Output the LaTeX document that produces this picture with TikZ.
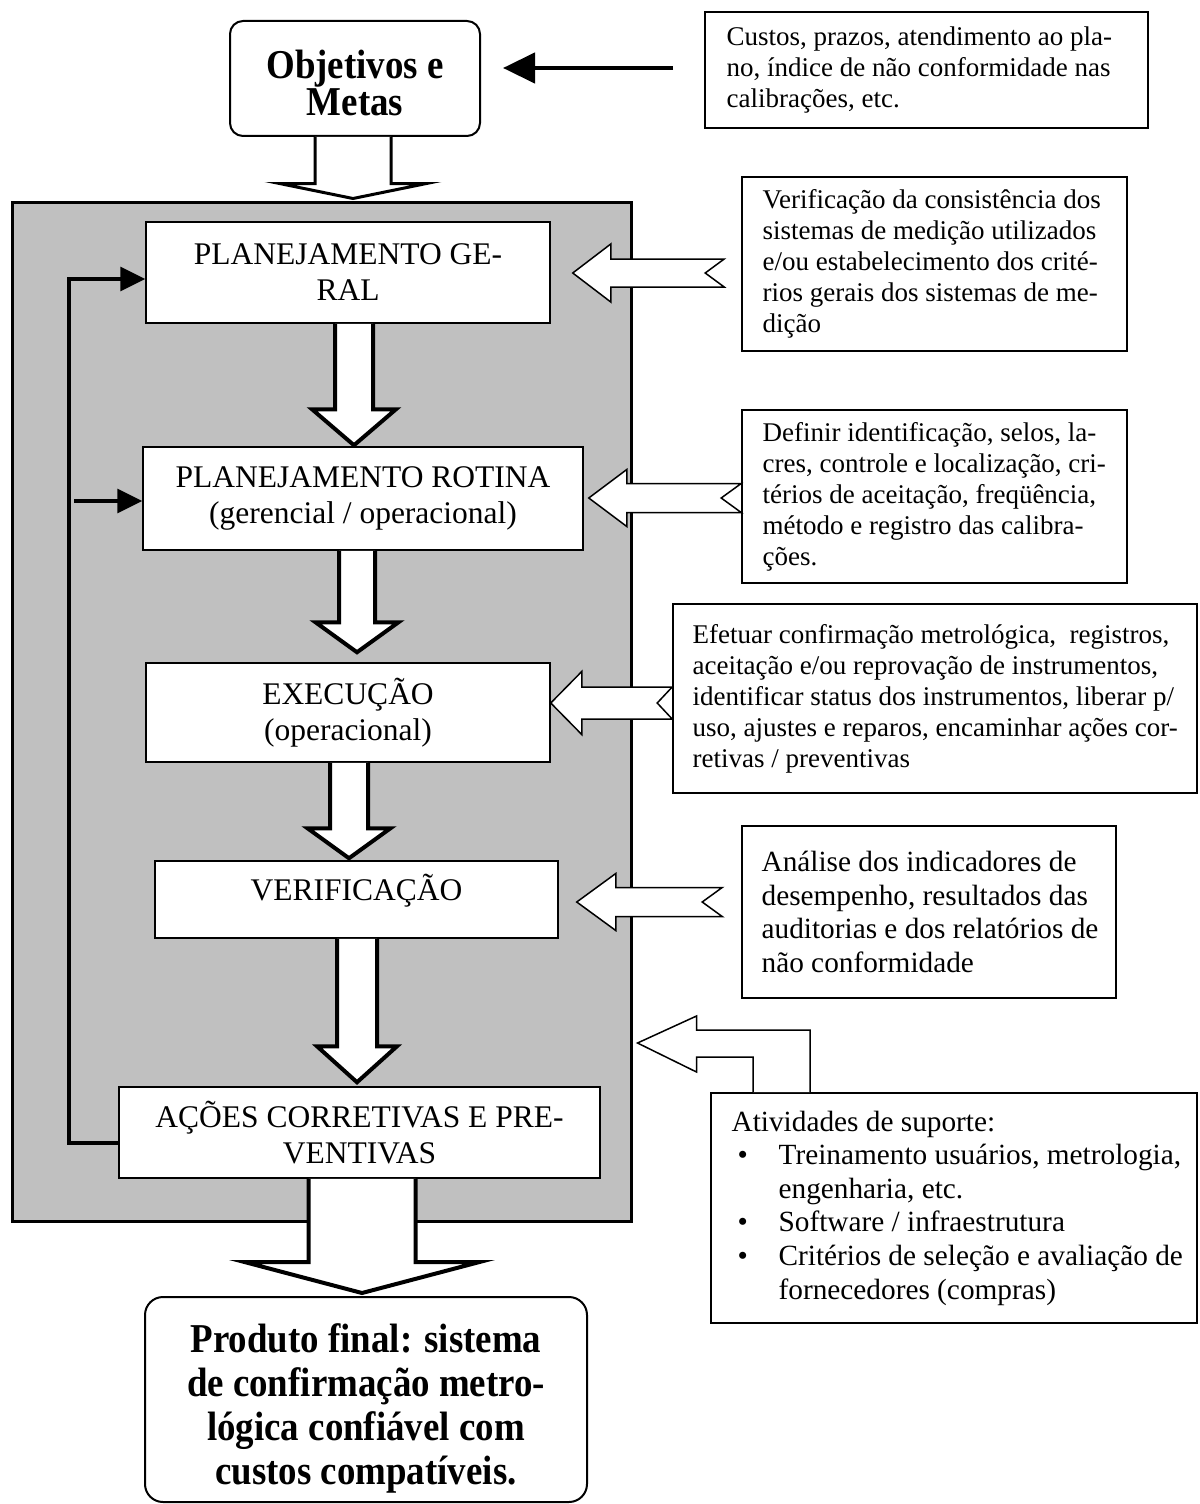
\documentclass[tikz,border=0pt]{standalone}
\usepackage{fontspec}
\setmainfont{Liberation Serif}
\newfontfamily\goalfont{Liberation Serif}[FakeStretch=0.9]
\usetikzlibrary{calc,arrows.meta}
\definecolor{coregray}{RGB}{192,192,192}

\tikzset{
  flowbox/.style={draw, line width=0.75pt, fill=white, align=center, inner sep=0pt,
    font=\fontsize{15.75pt}{18pt}\selectfont},
  flowtext/.style={inner sep=0pt, font=\fontsize{15.75pt}{18pt}\selectfont},
  notebox/.style={draw, line width=0.8pt, fill=white, inner sep=0pt},
  notetext/.style={anchor=west, align=left, inner sep=0pt,
    font=\fontsize{13.5pt}{15.5pt}\selectfont},
  notetextlg/.style={notetext, font=\fontsize{14.65pt}{16.8pt}\selectfont},
  goalbox/.style={draw, line width=1pt, fill=white, inner sep=0pt},
  goaltext/.style={align=center, inner sep=0pt},
  fatarrow/.style={draw, fill=white, line width=2pt, line join=miter},
  thinarrow/.style={draw, fill=white, line width=0.75pt, line join=miter},
  loopline/.style={line width=1.7pt, line join=miter, -{Triangle[length=12.5pt,width=12pt]}},
  leadline/.style={line width=2.25pt, -{Triangle[length=16pt,width=15pt]}},
}

% hollow block arrow pointing down:
% #1 style, #2 source, #3 target, #4 axis coordinate, #5 stem half width,
% #6 head half width, #7 head length, #8 gap before target
\newcommand\fatdown[8]{%
  \draw[#1] ($(#2.south -| #4)+(-#5,0)$)
    -- ($(#3.north -| #4)+(-#5,-#7-#8)$)
    -- ($(#3.north -| #4)+(-#6,-#7-#8)$)
    -- ($(#3.north -| #4)+(0,-#8)$)
    -- ($(#3.north -| #4)+(#6,-#7-#8)$)
    -- ($(#3.north -| #4)+(#5,-#7-#8)$)
    -- ($(#2.south -| #4)+(#5,0)$);}

% hollow block arrow pointing left with a notched tail:
% #1 tip, #2 tail, #3 head length, #4 head half width, #5 stem half width, #6 notch depth
\newcommand\fatleft[6]{%
  \draw[thinarrow] (#1) -- ++(#3,-#4) -- ++(0,#4-#5)
    -- ($(#2)+(0,-#5)$) -- ($(#2)+(-#6,0)$) -- ($(#2)+(0,#5)$)
    -- ($(#1)+(#3,#5)$) -- ++(0,#4-#5) -- cycle;}

\begin{document}
\begin{tikzpicture}[x=0.5pt, y=-0.5pt]
\useasboundingbox (0,0) rectangle (1199,1504);

% shaded frame of the confirmation cycle
\node[draw, fill=coregray, line width=1.5pt, minimum width=309.5pt,
      minimum height=509.5pt, inner sep=0pt] (core) at (321.5,711.5) {};

% goal and final product
\node[goalbox, rounded corners=6.5pt, minimum width=125pt, minimum height=57.5pt]
      (obj) at (355,78.5) {};
\node[goaltext, font=\goalfont\bfseries\fontsize{20.5pt}{17pt}\selectfont]
      (objtext) at (355,83) {Objetivos e\\Metas};
\node[goalbox, rounded corners=9pt, minimum width=221pt, minimum height=102.5pt]
      (prod) at (366,1399.5) {};
\node[goaltext, font=\goalfont\bfseries\fontsize{20.5pt}{22pt}\selectfont]
      (prodtext) at (366,1408.5)
      {Produto final: sistema\\de confirmação metro-\\lógica confiável com\\custos compatíveis.};

% cycle steps
\node[flowbox, minimum width=202pt, minimum height=50.5pt] (pg) at (348,272.5)
      {PLANEJAMENTO GE-\\RAL};
\node[flowbox, minimum width=220pt, minimum height=51.5pt] (pr) at (363,498.5)
      {PLANEJAMENTO ROTINA\\(gerencial / operacional)};
\node[flowbox, minimum width=202pt, minimum height=49.5pt] (ex) at (348,712.5)
      {EXECUÇÃO\\(operacional)};
\node[flowbox, minimum width=201.5pt, minimum height=38.5pt] (ver) at (356.5,899.5) {};
\node[flowtext] (vertext) at (356.5,891) {VERIFICAÇÃO};
\node[flowbox, minimum width=240.5pt, minimum height=45.5pt] (acp) at (359.5,1132.5)
      {AÇÕES CORRETIVAS E PRE-\\VENTIVAS};

% side notes
\node[notebox, minimum width=221.5pt, minimum height=58pt] (custos) at (926.5,70) {};
\node[notetext] (custostext) at ($(custos.west)+(22,0)$)
      {Custos, prazos, atendimento ao pla-\\no, índice de não conformidade nas\\calibrações, etc.};

\node[notebox, minimum width=192.5pt, minimum height=87pt] (verif) at (934.5,264) {};
\node[notetext] (veriftext) at ($(verif.west)+(21,0)$)
      {Verificação da consistência dos\\sistemas de medição utilizados\\e/ou estabelecimento dos crité-\\rios gerais dos sistemas de me-\\dição};

\node[notebox, minimum width=192.5pt, minimum height=86.5pt] (definir) at (934.5,496.5) {};
\node[notetext] (definirtext) at ($(definir.west)+(21,0)$)
      {Definir identificação, selos, la-\\cres, controle e localização, cri-\\térios de aceitação, freqüência,\\método e registro das calibra-\\ções.};

\node[notebox, minimum width=262pt, minimum height=94.5pt] (efetuar) at (935,698.5) {};
\node[notetext] (efetuartext) at ($(efetuar.west)+(20,0)$)
      {Efetuar confirmação metrológica,~ registros,\\aceitação e/ou reprovação de instrumentos,\\identificar status dos instrumentos, liberar p/\\uso, ajustes e reparos, encaminhar ações cor-\\retivas / preventivas};

\node[notebox, minimum width=187pt, minimum height=86pt] (analise) at (929,912) {};
\node[notetextlg] (analisetext) at ($(analise.west)+(20,0)$)
      {Análise dos indicadores de\\desempenho, resultados das\\auditorias e dos relatórios de\\não conformidade};

\node[notebox, minimum width=243pt, minimum height=115pt] (atv) at (954,1208) {};
\node[notetextlg] (atvtext) at ($(atv.west)+(21,0)$)
      {Atividades de suporte:\\
       \makebox[23.5pt][l]{\hspace{3pt}\textbullet}Treinamento usuários, metrologia,\\
       \hspace*{23.5pt}engenharia, etc.\\
       \makebox[23.5pt][l]{\hspace{3pt}\textbullet}Software / infraestrutura\\
       \makebox[23.5pt][l]{\hspace{3pt}\textbullet}Critérios de seleção e avaliação de\\
       \hspace*{23.5pt}fornecedores (compras)};

% axes of the vertical block arrows
\coordinate (axA) at (353,0);
\coordinate (axB) at (354,0);
\coordinate (axC) at (357,0);
\coordinate (axD) at (349,0);
\coordinate (axE) at (357,0);
\coordinate (axF) at (362,0);
\coordinate (loopx) at (69,0);

% vertical flow
\fatdown{fatarrow, line width=1.5pt}{obj}{core}{axA}{38}{73.5}{15}{2}
\fatdown{fatarrow}{pg}{pr}{axB}{19}{42}{36}{1}
\fatdown{fatarrow}{pr}{ex}{axC}{18}{41.5}{30}{10}
\fatdown{fatarrow}{ex}{ver}{axD}{19}{41.5}{30}{2}
\fatdown{fatarrow}{ver}{acp}{axE}{20}{40}{36}{4}
\fatdown{fatarrow}{acp}{prod}{axF}{53.5}{117.5}{31}{3}

% feedback loop
\draw[loopline] ($(acp.west)+(0,10.5)$) -- ($(loopx |- acp.west)+(0,10.5)$)
      -- ($(loopx |- pg.west)+(0,6.5)$) -- ($(pg.west)+(0,6.5)$);
\draw[loopline] ($(loopx |- pr.west)+(5,2.5)$) -- ($(pr.west)+(0,2.5)$);

% goals feed
\coordinate (leadstart) at ($(custos.west)+(-31,-2)$);
\draw[leadline] (leadstart) -- ($(obj.east |- leadstart)+(22,0)$);

% inputs from the side notes
\coordinate (t1) at ($(pg.east)+(22,0.5)$);
\coordinate (e1) at ($(verif.west |- t1)+(-17,0)$);
\fatleft{t1}{e1}{38}{29}{14}{19}

\coordinate (t2) at ($(pr.east)+(5,-0.5)$);
\coordinate (e2) at (definir.west |- t2);
\fatleft{t2}{e2}{38}{28.5}{14.5}{20}

\coordinate (t3) at ($(ex.east)+(0,-9.5)$);
\coordinate (e3) at (efetuar.west |- t3);
\fatleft{t3}{e3}{31}{31.5}{16}{15}

\coordinate (t4) at ($(ver.east)+(18,2.5)$);
\coordinate (e4) at ($(analise.west |- t4)+(-19,0)$);
\fatleft{t4}{e4}{39}{28.5}{14.5}{20}

% support activities feeding the whole cycle
\coordinate (t5) at ($(core.east)+(5,331.5)$);
\draw[thinarrow] ($(atv.north west)+(100,0)$) |- ($(t5)+(59,-13)$)
   -- ($(t5)+(59,-27)$) -- (t5) -- ($(t5)+(59,29)$) -- ($(t5)+(59,14)$)
   -| ($(atv.north west)+(43,0)$);
\end{tikzpicture}
\end{document}
